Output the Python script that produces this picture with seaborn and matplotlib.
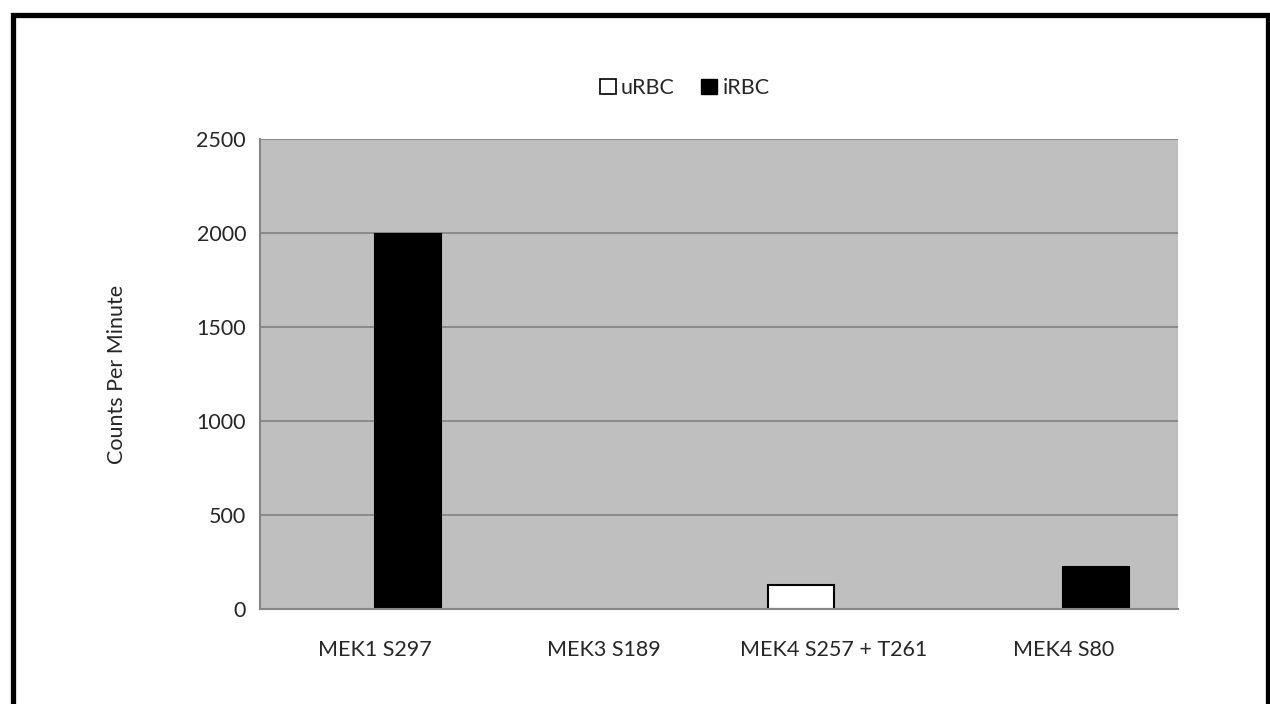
import matplotlib
matplotlib.use("Agg")
import matplotlib.pyplot as plt
import seaborn as sns
import pandas as pd
from matplotlib.patches import Rectangle

categories = ["MEK1 S297", "MEK3 S189", "MEK4 S257 + T261", "MEK4 S80"]
urbc = [0, 0, 126, 0]
irbc = [1995, 0, 0, 225]
series = ["uRBC", "iRBC"]
yticks = [0, 500, 1000, 1500, 2000, 2500]

df = pd.DataFrame({
    "category": categories * 2,
    "series": ["uRBC"] * len(categories) + ["iRBC"] * len(categories),
    "value": urbc + irbc,
})

sns.set_style("white")
plt.rcParams["font.family"] = ["Lato", "DejaVu Sans"]
fs = 15.5

fig = plt.figure(figsize=(12.7, 7.04), dpi=100)
ax = fig.add_axes([260 / 1270, 1 - 609 / 704, 918 / 1270, 470 / 704])
ax.set_facecolor("#bfbfbf")

sns.barplot(data=df, x="category", y="value", hue="series", hue_order=series,
            palette={"uRBC": "white", "iRBC": "black"}, width=0.575,
            edgecolor="black", linewidth=1.5, ax=ax, legend=False)

# no outline for empty bars
for p in ax.patches:
    if p.get_height() == 0:
        p.set_linewidth(0)

ax.set_ylim(0, 2500)
ax.set_xlim(-0.5, len(categories) - 0.5)
ax.set_yticks(yticks)
ax.set_axisbelow(True)
ax.yaxis.grid(True, color="#868686", linewidth=1.3)
ax.set_xticks(range(len(categories)))
ax.set_xticklabels(categories, fontsize=fs)
ax.set_xticks([i - 0.5 for i in range(len(categories) + 1)], minor=True)
ax.tick_params(axis="x", which="major", length=0, pad=22)
ax.tick_params(axis="x", which="minor", length=6, width=1.3, color="#868686", direction="out")
ax.tick_params(axis="y", length=6, width=1.3, color="#868686", direction="out", labelsize=fs, pad=4)
ax.set_xlabel("")
ax.set_ylabel("Counts Per Minute", fontsize=fs, labelpad=50)

for s in ["top", "right"]:
    ax.spines[s].set_visible(False)
for s in ["left", "bottom"]:
    ax.spines[s].set_color("#868686")
    ax.spines[s].set_linewidth(1.5)

handles = [Rectangle((0, 0), 1, 1, facecolor="white", edgecolor="black", linewidth=1.2),
           Rectangle((0, 0), 1, 1, facecolor="black", edgecolor="black")]
fig.legend(handles, series, loc="center", bbox_to_anchor=(0.539, 0.875), ncol=2,
           frameon=False, fontsize=fs, handlelength=0.75, handleheight=0.75,
           handletextpad=0.25, columnspacing=1.2)

# outer chart frame
fig.patches.append(Rectangle((12.5 / 1270, -0.05), 1255 / 1270, 1.05 - 14.5 / 704,
                             transform=fig.transFigure, fill=False,
                             edgecolor="black", linewidth=3.8))

fig.savefig("out.png", dpi=100)
